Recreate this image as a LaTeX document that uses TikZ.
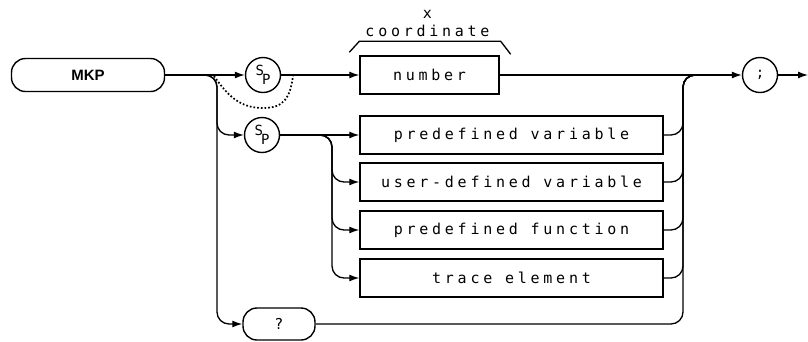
\documentclass[tikz,border=0pt]{standalone}
\usepackage{fontspec}
\newfontfamily\plotfont[LetterSpace=25]{DejaVu Sans Mono}
\newfontfamily\keyfont{Liberation Sans}
\usetikzlibrary{arrows.meta, calc}

\newcommand{\sptext}{\raisebox{3.5pt}{S}\hspace{-2pt}\raisebox{-5.5pt}{P}}

\tikzset{
  keyword/.style={
    rectangle, rounded corners=14pt, draw, line width=1.4pt,
    minimum width=153pt, minimum height=33pt, inner sep=0pt,
    font=\keyfont\bfseries\fontsize{15}{15}\selectfont
  },
  param/.style={
    rectangle, draw, line width=1.4pt,
    minimum width=303pt, minimum height=38pt, inner sep=0pt,
    font=\plotfont\fontsize{15}{15}\selectfont
  },
  sepcirc/.style={
    circle, draw, line width=1.4pt,
    minimum size=35pt, inner sep=0pt,
    font=\plotfont\fontsize{14}{14}\selectfont
  },
  symbox/.style={
    rectangle, rounded corners=14pt, draw, line width=1.4pt,
    minimum width=72pt, minimum height=32pt, inner sep=0pt,
    font=\plotfont\fontsize{15}{15}\selectfont
  },
  rail/.style={line width=1.3pt, rounded corners=12pt},
  arr/.style={rail, -{Latex[length=10pt, width=7pt]}},
  dots/.style={line width=1.7pt, dotted},
  lbl/.style={font=\plotfont\fontsize{15}{18}\selectfont, align=center}
}

\begin{document}
\begin{tikzpicture}[x=1pt, y=-1pt]
  \useasboundingbox (0,0) rectangle (808,341);

  % Main line
  \node[keyword] (mkp) at (88,75) {MKP};
  \node[sepcirc] (sp1) at (263,75) {\sptext};
  \node[param, minimum width=139pt] (num) at (429.5,75) {number};
  \node[sepcirc] (semi) at (760,75) {;};
  \coordinate (exit) at (808,75);

  % Alternatives below
  \node[sepcirc] (sp2) at (262,135) {\sptext};
  \node[param] (pvar) at (511.5,135) {predefined variable};
  \node[param] (uvar) at (511.5,182) {user-defined variable};
  \node[param] (pfun) at (511.5,230) {predefined function};
  \node[param] (trel) at (511.5,278) {trace element};
  \node[symbox] (qm) at (279,324) {?};

  % Rail corners
  \coordinate (railL) at (217,75);
  \coordinate (railM) at (332,135);
  \coordinate (railR) at (683,75);
  \coordinate (joinR) at (705,75);
  \coordinate (dotL) at (214,76);
  \coordinate (dotB) at (263,108);
  \coordinate (dotR) at (293,76);

  % Brace and label over number
  \draw[line width=1.3pt]
    ([xshift=-10pt, yshift=3pt]num.north west) -- ([yshift=14pt]num.north west)
    -- ([xshift=1pt, yshift=14pt]num.north east) -- ([xshift=11pt, yshift=1pt]num.north east);
  \node[lbl, anchor=south] (coord) at ([xshift=-2pt, yshift=15pt]num.north) {x\\coordinate};

  % Main connectors
  \draw[arr] (mkp) -- (sp1);
  \draw[arr] (sp1) -- (num);
  \draw[arr] (num) -- (semi);
  \draw[arr] (semi) -- (exit);
  \draw[dots] (dotL) .. controls (228,96) and (240,108) .. (dotB)
    .. controls (284,108) and (290,98) .. (dotR);

  % Left rail
  \draw[arr] (mkp.east) -- (railL) |- (sp2);
  \draw[arr] (mkp.east) -- (railL) |- (qm);

  % Middle rail
  \draw[arr] (sp2) -- (pvar);
  \draw[arr] (sp2) -- (railM) |- (uvar);
  \draw[arr] (sp2) -- (railM) |- (pfun);
  \draw[arr] (sp2) -- (railM) |- (trel);

  % Right rail
  \draw[rail] (pvar.east) -| (railR) -- (joinR);
  \draw[rail] (uvar.east) -| (railR) -- (joinR);
  \draw[rail] (pfun.east) -| (railR) -- (joinR);
  \draw[rail] (trel.east) -| (railR) -- (joinR);
  \draw[rail] (qm.east) -| (railR) -- (joinR);
\end{tikzpicture}
\end{document}
